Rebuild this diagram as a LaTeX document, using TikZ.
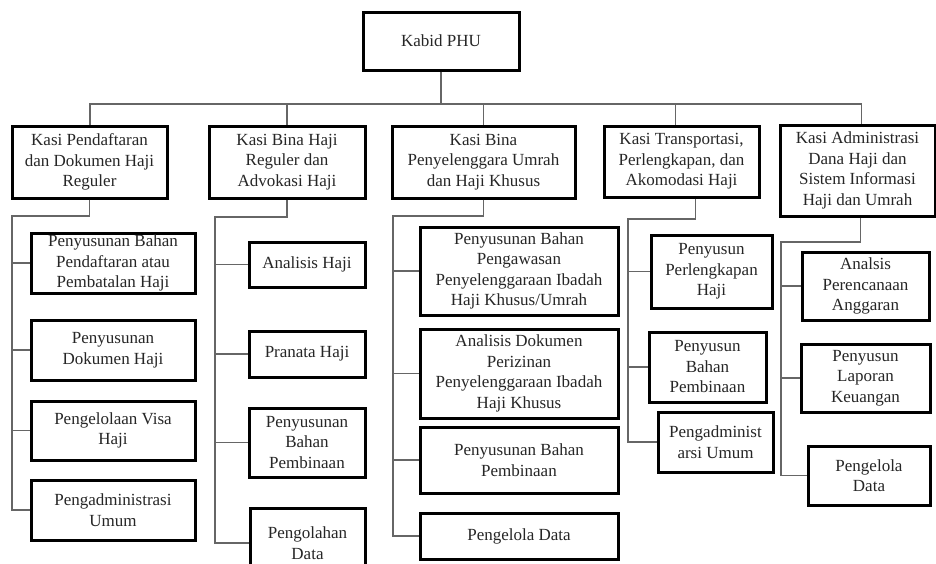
\documentclass[tikz,border=0pt]{standalone}
\usepackage{fontspec}
\setmainfont{Liberation Serif}
\newcommand\bx[6]{%
 \pgfmathsetmacro\bxw{#4-#2}\pgfmathsetmacro\bxh{#5-#3}%
 \node[box,minimum width=\bxw pt,minimum height=\bxh pt] (#1) at ({(#2+#4)/2},{(#3+#5)/2}) {#6};}
\tikzset{
 box/.style={draw=black,line width=3pt,inner sep=0pt,align=center,fill=white,
   font=\fontsize{17}{20.5}\selectfont,text=black!85},
 conn/.style={draw=black!60,line width=1.2pt}
}
\begin{document}
\begin{tikzpicture}[x=1pt,y=-1pt]
\clip (0,0) rectangle (936,563);
\fill[white] (0,0) rectangle (936,563);
\coordinate (tb) at (441,104);
\coordinate (j1) at (12,216);
\coordinate (j2) at (215,217);
\coordinate (j3) at (393,216);
\coordinate (j4) at (628,219);
\coordinate (j5) at (781,242);
% boxes
\bx{kabid}{363}{12}{519}{70}{Kabid PHU}
\bx{k1}{12}{126}{167}{198}{Kasi Pendaftaran\\dan Dokumen Haji\\Reguler}
\bx{k2}{209}{126}{365}{198}{Kasi Bina Haji\\Reguler dan\\Advokasi Haji}
\bx{k3}{392}{126}{575}{198}{Kasi Bina\\Penyelenggara Umrah\\dan Haji Khusus}
\bx{k4}{604}{126}{759}{197}{Kasi Transportasi,\\Perlengkapan, dan\\Akomodasi Haji}
\bx{k5}{780}{125}{935}{216}{Kasi Administrasi\\Dana Haji dan\\Sistem Informasi\\Haji dan Umrah}
% column 1
\bx{a1}{31}{233}{195}{293}{Penyusunan Bahan\\Pendaftaran atau\\Pembatalan Haji}
\bx{a2}{31}{320}{195}{380}{Penyusunan\\Dokumen Haji}
\bx{a3}{31}{401}{195}{460}{Pengelolaan Visa\\Haji}
\bx{a4}{31}{480}{195}{540}{Pengadministrasi\\Umum}
% column 2
\bx{b1}{249}{242}{365}{287}{Analisis Haji}
\bx{b2}{249}{331}{365}{377}{Pranata Haji}
\bx{b3}{249}{408}{365}{477}{Penyusunan\\Bahan\\Pembinaan}
\bx{b4}{250}{508}{365}{578}{Pengolahan\\Data}
% column 3
\bx{c1}{420}{227}{618}{315}{Penyusunan Bahan\\Pengawasan\\Penyelenggaraan Ibadah\\Haji Khusus/Umrah}
\bx{c2}{420}{329}{618}{418}{Analisis Dokumen\\Perizinan\\Penyelenggaraan Ibadah\\Haji Khusus}
\bx{c3}{420}{427}{618}{493}{Penyusunan Bahan\\Pembinaan}
\bx{c4}{420}{513}{618}{559}{Pengelola Data}
% column 4
\bx{d1}{651}{235}{772}{308}{Penyusun\\Perlengkapan\\Haji}
\bx{d2}{649}{332}{766}{402}{Penyusun\\Bahan\\Pembinaan}
\bx{d3}{658}{412}{773}{472}{Pengadminist\\arsi Umum}
% column 5
\bx{e1}{802}{252}{929}{320}{Analsis\\Perencanaan\\Anggaran}
\bx{e2}{801}{344}{930}{412}{Penyusun\\Laporan\\Keuangan}
\bx{e3}{808}{446}{930}{505}{Pengelola\\Data}
% top level connectors
\draw[conn] (kabid.south) -- (tb);
\draw[conn] ([xshift=0.5pt]k1.north) |- (tb) -| ([xshift=4pt]k5.north);
\draw[conn] (k2.north) -- (k2.north |- tb);
\draw[conn] (k3.north) -- (k3.north |- tb);
\draw[conn] ([xshift=-6pt]k4.north) -- ([xshift=-6pt]k4.north |- tb);
% column 1
\draw[conn] (k1.south) |- (j1) -- (j1 |- a4.west) -- (a4.west);
\foreach \n in {a1,a2,a3} \draw[conn] (j1 |- \n.west) -- (\n.west);
% column 2
\draw[conn] (k2.south) |- (j2) -- (j2 |- b4.west) -- (b4.west);
\foreach \n in {b1,b2,b3} \draw[conn] (j2 |- \n.west) -- (\n.west);
% column 3
\draw[conn] (k3.south) |- (j3) -- (j3 |- c4.west) -- (c4.west);
\foreach \n in {c1,c2,c3} \draw[conn] (j3 |- \n.west) -- (\n.west);
% column 4
\draw[conn] ([xshift=14pt]k4.south) |- (j4) -- (j4 |- d3.west) -- (d3.west);
\foreach \n in {d1,d2} \draw[conn] (j4 |- \n.west) -- (\n.west);
% column 5
\draw[conn] ([xshift=3pt]k5.south) |- (j5) -- (j5 |- e3.west) -- (e3.west);
\foreach \n in {e1,e2} \draw[conn] (j5 |- \n.west) -- (\n.west);
\end{tikzpicture}
\end{document}
